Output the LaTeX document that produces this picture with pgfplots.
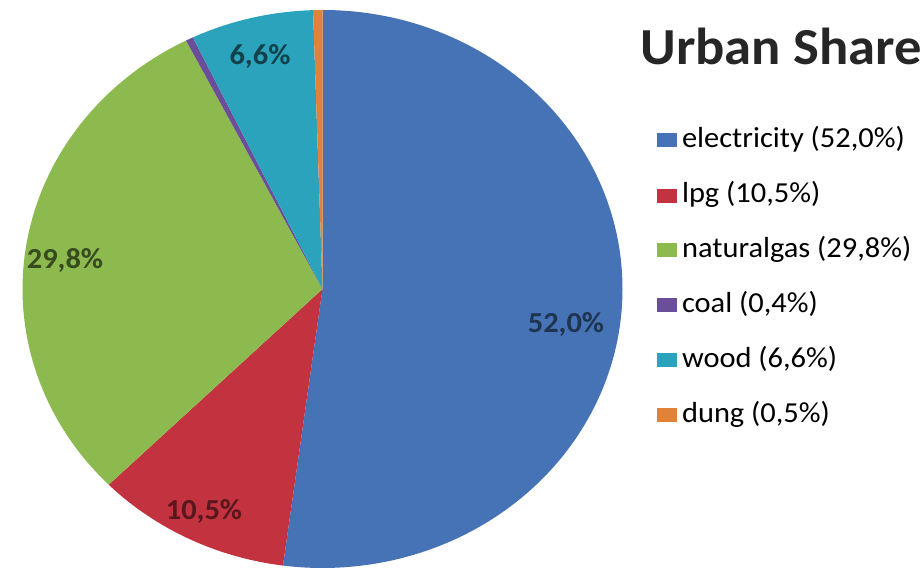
\documentclass[border=0pt]{standalone}
\usepackage{pgfplots}
\pgfplotsset{compat=1.18}
\usepackage{fontspec}
\setmainfont{Carlito}
\definecolor{elec}{HTML}{4573B5}
\definecolor{lpg}{HTML}{C2333F}
\definecolor{ngas}{HTML}{8CBA4E}
\definecolor{coal}{HTML}{6B4E9A}
\definecolor{wood}{HTML}{2BA3BD}
\definecolor{dung}{HTML}{E0823A}
% shares (percent)
\def\vA{52.0}\def\vB{10.5}\def\vC{29.8}\def\vD{0.4}\def\vE{6.6}\def\vF{0.5}
\def\tot{99.8}
\newcommand\sx[1]{\scalebox{1.05}[1]{#1}}
\begin{document}
\begin{tikzpicture}
\begin{axis}[
  width=461.5pt, height=286pt, scale only axis,
  xmin=0, xmax=923, ymin=0, ymax=572,
  hide axis, clip=false,
  legend style={at={(axis cs:657,445)}, anchor=north west, draw=none, fill=none,
    font=\fontsize{14.5}{16}\selectfont, row sep=14.5pt, inner sep=0pt,
    nodes={inner sep=0pt, text height=10pt, text depth=3pt},
    /tikz/every even column/.append style={column sep=0pt}},
  legend cell align=left,
  legend image code/.code={\fill[#1] (0pt,-3.25pt) rectangle (9.5pt,3.25pt);},
]
\path (axis cs:0,0) rectangle (axis cs:923,572);
\addlegendimage{elec}\addlegendentry{\,\sx{electricity (52,0\%)}}
\addlegendimage{lpg}\addlegendentry{\,\sx{lpg (10,5\%)}}
\addlegendimage{ngas}\addlegendentry{\,\sx{naturalgas (29,8\%)}}
\addlegendimage{coal}\addlegendentry{\,\sx{coal (0,4\%)}}
\addlegendimage{wood}\addlegendentry{\,\sx{wood (6,6\%)}}
\addlegendimage{dung}\addlegendentry{\,\sx{dung (0,5\%)}}
\pgfmathsetmacro\k{360/\tot}
\pgfmathsetmacro\aA{90}
\pgfmathsetmacro\aB{\aA-\k*\vA}
\pgfmathsetmacro\aC{\aB-\k*\vB}
\pgfmathsetmacro\aD{\aC-\k*\vC}
\pgfmathsetmacro\aE{\aD-\k*\vD}
\pgfmathsetmacro\aF{\aE-\k*\vE}
\pgfmathsetmacro\aG{\aF-\k*\vF}
\fill[elec] (axis cs:322.5,283) -- ++(\aA:150pt and 139.5pt) arc[start angle=\aA, end angle=\aB, x radius=150pt, y radius=139.5pt] -- cycle;
\fill[lpg]  (axis cs:322.5,283) -- ++(\aB:150pt and 139.5pt) arc[start angle=\aB, end angle=\aC, x radius=150pt, y radius=139.5pt] -- cycle;
\fill[ngas] (axis cs:322.5,283) -- ++(\aC:150pt and 139.5pt) arc[start angle=\aC, end angle=\aD, x radius=150pt, y radius=139.5pt] -- cycle;
\fill[coal] (axis cs:322.5,283) -- ++(\aD:150pt and 139.5pt) arc[start angle=\aD, end angle=\aE, x radius=150pt, y radius=139.5pt] -- cycle;
\fill[wood] (axis cs:322.5,283) -- ++(\aE:150pt and 139.5pt) arc[start angle=\aE, end angle=\aF, x radius=150pt, y radius=139.5pt] -- cycle;
\fill[dung] (axis cs:322.5,283) -- ++(\aF:150pt and 139.5pt) arc[start angle=\aF, end angle=\aG, x radius=150pt, y radius=139.5pt] -- cycle;
\node[text=elec!45!black, font=\fontsize{14.5}{16}\selectfont\bfseries] at (axis cs:566,248) {\sx{52,0\%}};
\node[text=lpg!45!black, font=\fontsize{14.5}{16}\selectfont\bfseries] at (axis cs:204,61) {\sx{10,5\%}};
\node[text=ngas!40!black, font=\fontsize{14.5}{16}\selectfont\bfseries] at (axis cs:65,312) {\sx{29,8\%}};
\node[text=wood!40!black, font=\fontsize{14.5}{16}\selectfont\bfseries] at (axis cs:260,516) {\sx{6,6\%}};
\node[font=\fontsize{26}{30}\selectfont\bfseries, anchor=base west, inner sep=0pt, text=black!85] at (axis cs:640,507) {\sx{Urban Share}};
\end{axis}
\end{tikzpicture}
\end{document}
